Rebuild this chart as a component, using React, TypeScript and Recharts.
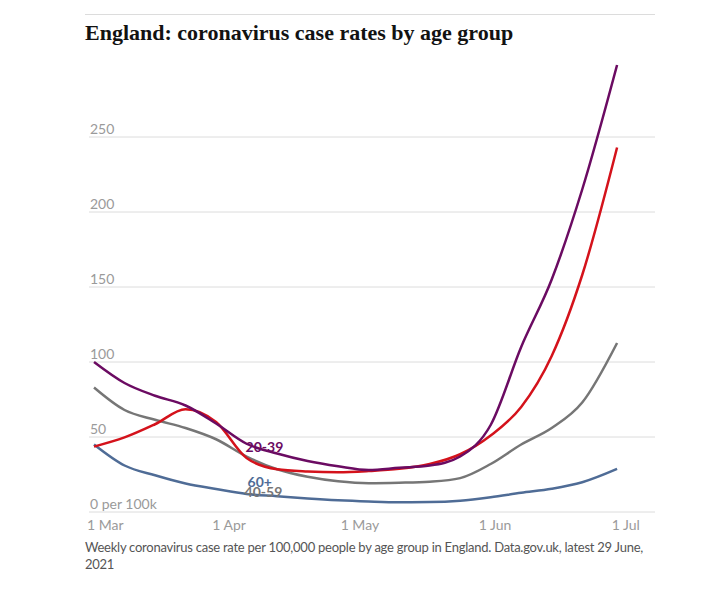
import React from 'react';
import { LineChart, Line, XAxis, YAxis, CartesianGrid, LabelList } from 'recharts';

// days since 1 Mar 2021
const days = [0, 7, 14, 21, 28, 35, 42, 49, 56, 63, 70, 77, 84, 91, 98, 105, 112, 120];
const age20to39 = [100, 86, 77.5, 71, 59, 45.5, 39, 34, 30.5, 28, 29.5, 31, 37, 58, 110, 155, 215, 298];
const ageYoung = [43.6, 49.7, 58.5, 68.5, 60, 36, 28.5, 27, 26.5, 27.3, 28.8, 32, 38.5, 51, 70, 104, 158, 243];
const age40to59 = [83, 68, 61.5, 56, 48.5, 37, 28.5, 23.5, 20.5, 19.2, 19.5, 20.2, 22.6, 32, 45, 56, 73, 112.7];
const age60plus = [45, 31, 24.5, 19, 15.3, 12, 10.5, 9, 7.8, 7, 6.5, 6.6, 7.5, 9.8, 12.8, 15.5, 19.8, 28.7];

const xTicks = [0, 31, 61, 92, 122];
const xTickLabels = ['1 Mar', '1 Apr', '1 May', '1 Jun', '1 Jul'];
const yTicks = [0, 50, 100, 150, 200, 250];

// series labels sit on the 5 Apr point
const labelDay = 35;

const data = days.map((d, i) => ({
  day: d,
  a20: age20to39[i],
  young: ageYoung[i],
  a40: age40to59[i],
  a60: age60plus[i],
  l20: d === labelDay ? '20-39' : undefined,
  l40: d === labelDay ? '40-59' : undefined,
  l60: d === labelDay ? '60+' : undefined,
}));

const PURPLE = '#6b0b62';
const RED = '#d4121b';
const GREY = '#767676';
const BLUE = '#4f6c96';

const PLOT_LEFT = 81;
const sansFont = 'Lato, "Open Sans", sans-serif';

const YTick = (props: any) => {
  const v = props.payload.value;
  return (
    <text x={PLOT_LEFT + 1} y={props.y - 3} fill="#9a9a9a" fontSize={14} fontFamily={sansFont} textAnchor="start">
      {v === 0 ? '0 per 100k' : v}
    </text>
  );
};

const XTick = (props: any) => {
  const i = xTicks.indexOf(props.payload.value);
  const first = i === 0;
  return (
    <text
      x={first ? props.x - 7 : props.x}
      y={props.y}
      dy="0.71em"
      fill="#9a9a9a"
      fontSize={14}
      fontFamily={sansFont}
      textAnchor={first ? 'start' : 'middle'}
    >
      {xTickLabels[i]}
    </text>
  );
};

const seriesLabel = (color: string, dx: number, dy: number) => (props: any) => {
  if (!props.value) return null;
  const x = props.x ?? props.viewBox?.x;
  const y = props.y ?? props.viewBox?.y;
  return (
    <text x={x + dx} y={y + dy} fill={color} fontSize={14} fontWeight="bold" fontFamily={sansFont} textAnchor="start">
      {props.value}
    </text>
  );
};

export default function App() {
  return (
    <div style={{ position: 'relative', width: 698, height: 584 }}>
      <div style={{ position: 'absolute', left: 77, top: 6, width: 570, height: 1, background: '#dcdcdc' }} />
      <div
        style={{
          position: 'absolute',
          left: 77,
          top: 12,
          fontFamily: '"Liberation Serif", serif',
          fontWeight: 'bold',
          fontSize: 22,
          lineHeight: '26px',
          color: '#121212',
          whiteSpace: 'nowrap',
        }}
      >
        England: coronavirus case rates by age group
      </div>
      <div style={{ position: 'absolute', left: 0, top: 0 }}>
        <LineChart width={698} height={540} data={data} margin={{ top: 54, right: 51, bottom: 0, left: PLOT_LEFT - 1 }}>
          <CartesianGrid horizontal vertical={false} stroke="#dcdcdc" syncWithTicks />
          <XAxis
            dataKey="day"
            type="number"
            domain={[-1.15, 128.7]}
            ticks={xTicks}
            axisLine={false}
            tickLine={false}
            height={36}
            tick={<XTick />}
            allowDataOverflow
          />
          <YAxis
            type="number"
            domain={[0, 300]}
            ticks={yTicks}
            axisLine={false}
            tickLine={false}
            width={1}
            tick={<YTick />}
            interval={0}
            allowDataOverflow
          />
          <Line dataKey="a40" type="monotone" stroke={GREY} strokeWidth={2.5} dot={false} isAnimationActive={false}>
            <LabelList dataKey="l40" content={seriesLabel(GREY, -2, 40)} />
          </Line>
          <Line dataKey="a60" type="monotone" stroke={BLUE} strokeWidth={2.5} dot={false} isAnimationActive={false}>
            <LabelList dataKey="l60" content={seriesLabel(BLUE, 1, -7)} />
          </Line>
          <Line dataKey="young" type="monotone" stroke={RED} strokeWidth={2.5} dot={false} isAnimationActive={false} />
          <Line dataKey="a20" type="monotone" stroke={PURPLE} strokeWidth={2.5} dot={false} isAnimationActive={false}>
            <LabelList dataKey="l20" content={seriesLabel(PURPLE, -1, 8)} />
          </Line>
        </LineChart>
      </div>
      <div
        style={{
          position: 'absolute',
          left: 77,
          top: 531,
          width: 580,
          fontFamily: sansFont,
          fontSize: 13,
          lineHeight: '17px',
          letterSpacing: -0.25,
          color: '#555',
        }}
      >
        Weekly coronavirus case rate per 100,000 people by age group in England. Data.gov.uk, latest 29 June, 2021
      </div>
    </div>
  );
}
